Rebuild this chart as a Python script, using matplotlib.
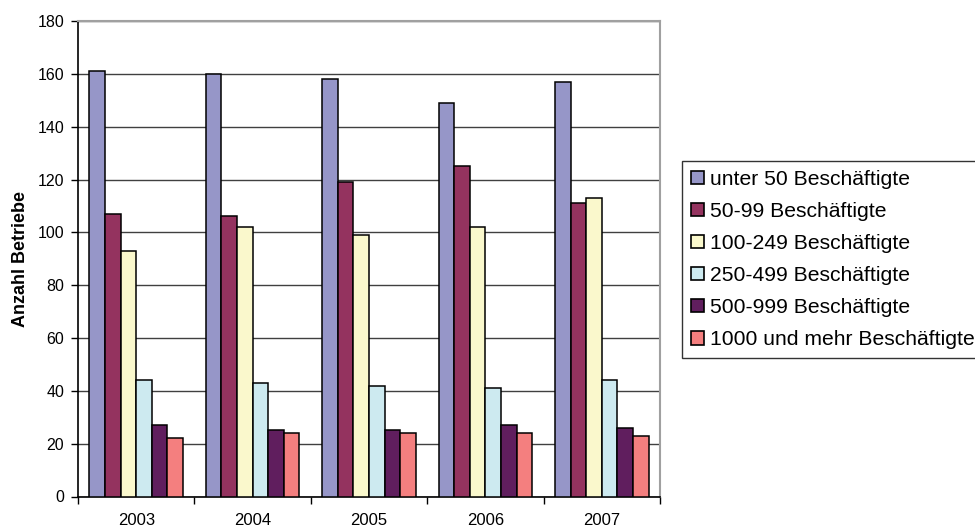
import numpy as np
import matplotlib
matplotlib.use("Agg")
import matplotlib.pyplot as plt
from matplotlib.patches import Patch

plt.rcParams['font.family'] = ['Liberation Sans', 'DejaVu Sans']

years = ["2003", "2004", "2005", "2006", "2007"]
series_names = [
    "unter 50 Beschäftigte",
    "50-99 Beschäftigte",
    "100-249 Beschäftigte",
    "250-499 Beschäftigte",
    "500-999 Beschäftigte",
    "1000 und mehr Beschäftigte",
]
unter_50 = [161, 160, 158, 149, 157]
b_50_99 = [107, 106, 119, 125, 111]
b_100_249 = [93, 102, 99, 102, 113]
b_250_499 = [44, 43, 42, 41, 44]
b_500_999 = [27, 25, 25, 27, 26]
ab_1000 = [22, 24, 24, 24, 23]
series_values = [unter_50, b_50_99, b_100_249, b_250_499, b_500_999, ab_1000]
colors = ["#9696C8", "#94335F", "#FAF8CC", "#CDEAF0", "#601E5E", "#F47F7F"]

W, H = 975, 528
fig = plt.figure(figsize=(W / 100, H / 100), dpi=100)
ax = fig.add_axes([78 / W, (H - 496.5) / H, 582 / W, 475.5 / H])

n = len(series_values)
bar_w = 0.134
x = np.arange(len(years))
for i, (vals, col) in enumerate(zip(series_values, colors)):
    offs = (i - (n - 1) / 2) * bar_w
    ax.bar(x + offs, vals, width=bar_w, color=col, edgecolor="black",
           linewidth=1.1, zorder=3)

ax.set_xlim(-0.5, len(years) - 0.5)
ax.set_ylim(0, 180)
ax.set_yticks(np.arange(0, 181, 20))
ax.yaxis.grid(True, color="#404040", linewidth=1.0, zorder=0)
ax.set_axisbelow(True)

ax.set_xticks(x)
ax.set_xticklabels(years)
ax.set_xticks(np.arange(-0.5, len(years), 1.0), minor=True)
ax.tick_params(axis="x", which="major", length=0, pad=12, labelsize=12)
ax.tick_params(axis="x", which="minor", length=5, width=1.0, direction="out", color="black")
ax.tick_params(axis="y", length=5, width=1.0, direction="out", labelsize=11.5, pad=5)

for s in ("top", "right"):
    ax.spines[s].set_color("#A0A0A0")
    ax.spines[s].set_linewidth(1.5)
for s in ("left", "bottom"):
    ax.spines[s].set_color("black")
    ax.spines[s].set_linewidth(1.2)

ax.set_ylabel("Anzahl Betriebe", fontsize=13, fontweight="bold", labelpad=6)

handles = [Patch(facecolor=c, edgecolor="black", linewidth=1.2) for c in colors]
leg = fig.legend(handles, series_names, loc="upper left",
                 bbox_to_anchor=(682 / W, (H - 161) / H),
                 fontsize=15.2, frameon=True, fancybox=False,
                 handlelength=0.6, handleheight=0.6, handletextpad=0.3,
                 labelspacing=0.62, borderpad=0.42, borderaxespad=0.0)
leg.get_frame().set_edgecolor("black")
leg.get_frame().set_linewidth(1.0)

fig.savefig("out.png", dpi=100)
